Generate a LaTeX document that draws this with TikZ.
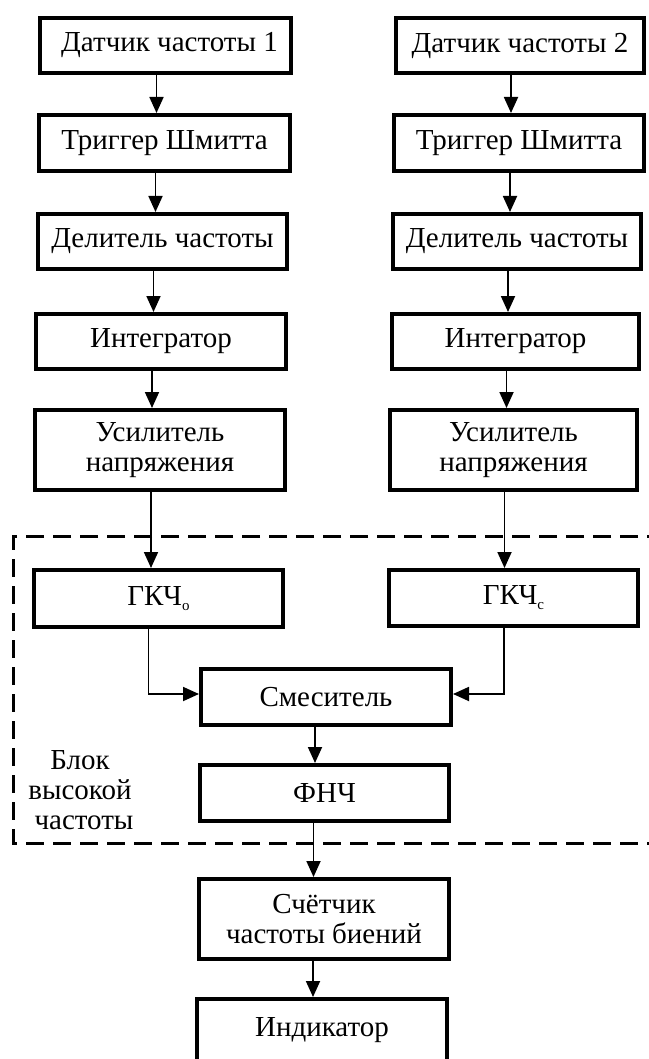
\documentclass[tikz,border=0pt]{standalone}
\usepackage{fontspec}
\setmainfont{Liberation Serif}
\usetikzlibrary{arrows.meta}
\tikzset{
  blk/.style={draw, line width=4pt, rectangle, inner sep=0pt, align=center,
    font=\fontsize{29}{30}\selectfont},
  arr/.style={line width=1.8pt, -{Triangle[length=16pt,width=14pt]}},
  hfbox/.style={line width=3pt, dash pattern=on 18pt off 9pt},
  lbl/.style={align=center, font=\fontsize{29}{30}\selectfont}
}
\begin{document}
\begin{tikzpicture}[x=1pt,y=-1pt]
\useasboundingbox (0,0) rectangle (648,1059);
% left column
\node[blk, minimum width=251pt, minimum height=55pt] (d1) at (165.5,45.5) {\hspace{8pt}Датчик частоты 1};
\node[blk, minimum width=251pt, minimum height=56pt] (t1) at (164.5,143) {Триггер Шмитта};
\node[blk, minimum width=249pt, minimum height=55pt] (v1) at (162.5,241.5) {Делитель частоты};
\node[blk, minimum width=250pt, minimum height=55pt] (i1) at (161,341.5) {Интегратор};
\node[blk, minimum width=250pt, minimum height=80pt] (u1) at (160,450) {Усилитель\\напряжения};
% right column
\node[blk, minimum width=248pt, minimum height=55pt] (d2) at (520,45.5) {Датчик частоты 2};
\node[blk, minimum width=250pt, minimum height=56pt] (t2) at (519,143) {Триггер Шмитта};
\node[blk, minimum width=248pt, minimum height=55pt] (v2) at (517,241.5) {Делитель частоты};
\node[blk, minimum width=247pt, minimum height=55pt] (i2) at (515.5,341.5) {Интегратор};
\node[blk, minimum width=247pt, minimum height=80pt] (u2) at (513.5,450) {Усилитель\\напряжения};
% high-frequency block
\node[blk, minimum width=249pt, minimum height=57pt] (g1) at (158.5,598.5) {ГКЧ\raisebox{-5pt}{\fontsize{15}{15}\selectfont о}};
\node[blk, minimum width=249pt, minimum height=56pt] (g2) at (513.5,598) {ГКЧ\raisebox{-5pt}{\fontsize{15}{15}\selectfont с}};
\node[blk, minimum width=250pt, minimum height=56pt] (mix) at (326,697) {Смеситель};
\node[blk, minimum width=249pt, minimum height=56pt] (lpf) at (324.5,793) {ФНЧ};
\node[blk, minimum width=250pt, minimum height=80pt] (cnt) at (324,919) {Счётчик\\частоты биений};
\node[blk, minimum width=250pt, minimum height=62pt] (ind) at (322,1030) {Индикатор};
\node[lbl] (hflbl) at (80,790) {Блок\\высокой\\\hspace{8pt}частоты};
\draw[hfbox] (665,536) -- (13,536) -- (13,843) -- (665,843);
% connectors
\foreach \a/\b in {d1/t1,t1/v1,v1/i1,i1/u1,u1/g1,d2/t2,t2/v2,v2/i2,i2/u2,u2/g2}
  \draw[arr] ([xshift=-9pt]\a.south) -- ([xshift=-9pt]\a.south |- \b.north);
\draw[arr] ([xshift=-10pt]g1.south) |- ([yshift=3pt]mix.west);
\draw[arr] ([xshift=-9.5pt]g2.south) |- ([yshift=3pt]mix.east);
\foreach \a/\b in {mix/lpf,lpf/cnt,cnt/ind}
  \draw[arr] ([xshift=-11pt]\a.south) -- ([xshift=-11pt]\a.south |- \b.north);
\end{tikzpicture}
\end{document}
